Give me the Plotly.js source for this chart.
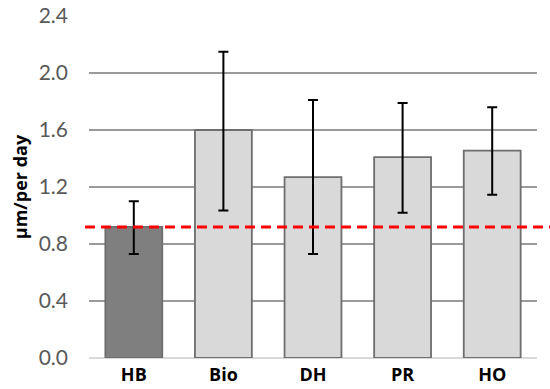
<!DOCTYPE html>
<html>
<head>
<meta charset="utf-8">
<script src="https://cdn.plot.ly/plotly-3.0.1.min.js"></script>
<style>html,body{margin:0;padding:0;background:#fff;}#chart{width:550px;height:389px;}</style>
</head>
<body>
<div id="chart"></div>
<script>
var categories = ["HB", "Bio", "DH", "PR", "HO"];
var means = [0.92, 1.60, 1.27, 1.41, 1.455];
var upper = [1.10, 2.15, 1.81, 1.79, 1.76];
var lower = [0.73, 1.035, 0.73, 1.02, 1.145];
var referenceLevel = 0.92;
var yTicks = [0.0, 0.4, 0.8, 1.2, 1.6, 2.0, 2.4];

var errPlus = means.map(function (m, i) { return upper[i] - m; });
var errMinus = means.map(function (m, i) { return m - lower[i]; });
var fills = categories.map(function (c, i) { return i === 0 ? "#7f7f7f" : "#d9d9d9"; });

var trace = {
  type: "bar",
  x: categories,
  y: means,
  marker: { color: fills, line: { color: "#6e6e6e", width: 1.8 } },
  error_y: { type: "data", symmetric: false, array: errPlus, arrayminus: errMinus,
             color: "#000000", thickness: 2, width: 5 },
  hoverinfo: "none"
};

var layout = {
  width: 550, height: 389,
  margin: { l: 89, r: 13, t: 16, b: 31 },
  paper_bgcolor: "#ffffff", plot_bgcolor: "#ffffff",
  bargap: 0.365,
  showlegend: false,
  font: { family: "Lato, 'Open Sans', sans-serif" },
  xaxis: {
    tickfont: { size: 18, color: "#000000", family: "'Open Sans', Lato, sans-serif", weight: "bold" },
    ticklabelstandoff: 4,
    showgrid: false, showline: false, ticks: "", fixedrange: true
  },
  yaxis: {
    range: [0, 2.4],
    tickvals: yTicks,
    ticktext: yTicks.map(function (v) { return v.toFixed(1); }),
    tickfont: { size: 21, color: "#595959" },
    ticklabelstandoff: 20,
    showgrid: true, gridcolor: "#9a9a9a", gridwidth: 1.5,
    zeroline: true, zerolinecolor: "#d9d9d9", zerolinewidth: 1.5,
    showline: false, ticks: "",
    title: { text: "µm/per day", font: { size: 18, color: "#000000", family: "'Open Sans', Lato, sans-serif", weight: "bold" }, standoff: 6 }
  },
  shapes: [{
    type: "line", xref: "paper", yref: "y",
    x0: -0.009, x1: 1.03, y0: referenceLevel, y1: referenceLevel,
    line: { color: "#ff0000", width: 3, dash: "10px,6px" }
  }]
};

Plotly.newPlot("chart", [trace], layout, { staticPlot: true, displayModeBar: false });
</script>
</body>
</html>
